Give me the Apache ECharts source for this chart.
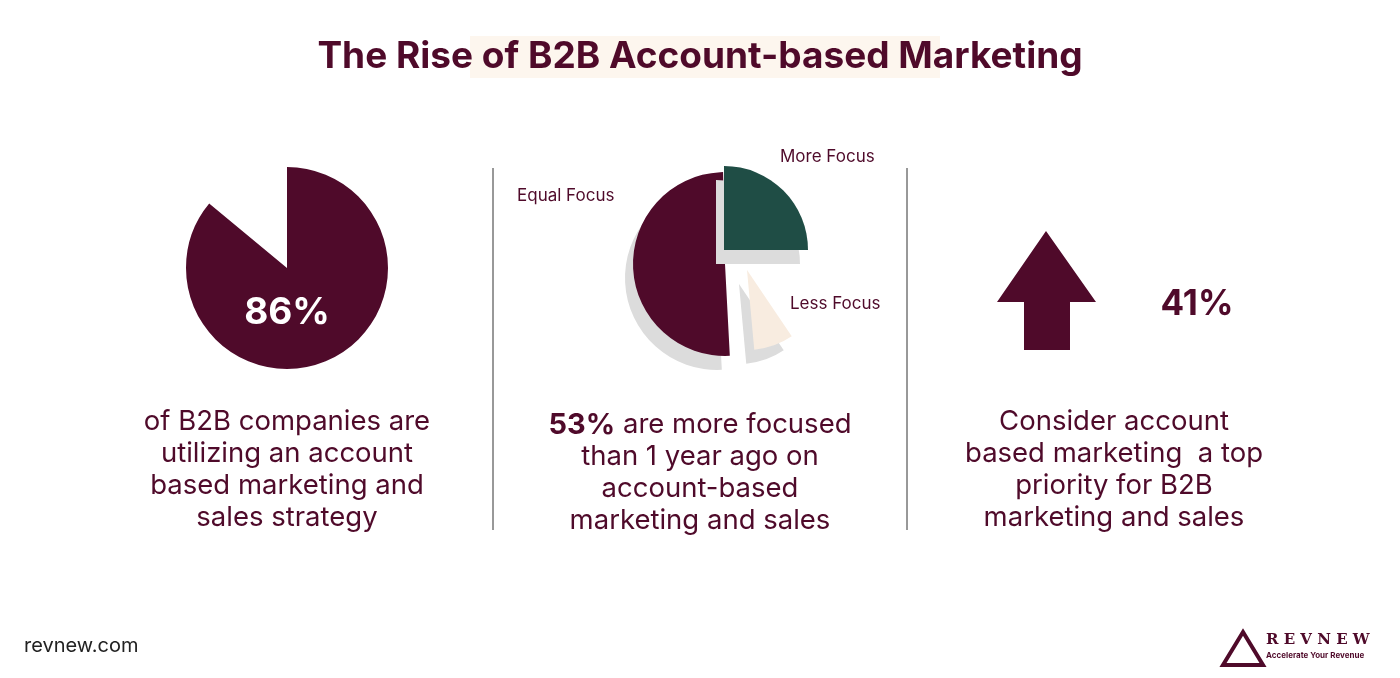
<!DOCTYPE html><html><head><meta charset="utf-8">
<script src="https://cdn.jsdelivr.net/npm/echarts@6/dist/echarts.min.js"></script>
<style>html,body{margin:0;background:#fff}#c{width:1400px;height:678px}</style></head><body><div id="c"></div>
<script>
const leftShare = [86, 14];
const focusLabels = ['More Focus','Equal Focus','Less Focus'];
const focusValues = [25, 50.5, 8];
const arrowStat = '41%';
const C='#4f0a2a', F='Inter, "Noto Sans", sans-serif';
const ch = echarts.init(document.getElementById('c'));
function slice(name,val,color,center,r,start){
  return {type:'pie',center,radius:[0,r],startAngle:start,clockwise:true,silent:true,animation:false,
    label:{show:false},labelLine:{show:false},
    data:[{name,value:val,itemStyle:{color,shadowColor:'#dcdcdc',shadowBlur:0,shadowOffsetX:-8,shadowOffsetY:14}},
          {name:'rest',value:100-val,itemStyle:{color:'transparent',shadowColor:'transparent'}}]};
}
ch.setOption({
  series:[
    {type:'pie',center:[287,268],radius:[0,101],startAngle:90,silent:true,animation:false,label:{show:false},
     data:[{value:leftShare[0],itemStyle:{color:C}},{value:leftShare[1],itemStyle:{color:'transparent'}}]},
    slice(focusLabels[1],focusValues[1],C,[725,264],92,273),
    slice(focusLabels[0],focusValues[0],'#1f4d45',[724,250],84,90),
    slice(focusLabels[2],focusValues[2],'#f8ece0',[747,270],80,-56)
  ],
  graphic:[
    {type:'rect',shape:{x:470,y:36,width:470,height:42},style:{fill:'#fdf6ee'},z:0},
    {type:'text',x:700,y:57,style:{text:'The Rise of B2B Account-based Marketing',font:'bold 37px '+F,fill:C,textAlign:'center',textVerticalAlign:'middle'}},
    {type:'text',x:287,y:313,style:{text:leftShare[0]+'%',font:'bold 37px '+F,fill:'#fff',textAlign:'center',textVerticalAlign:'middle'},z:10},
    {type:'text',x:780,y:157,style:{text:focusLabels[0],font:'17px '+F,fill:C,textVerticalAlign:'middle'}},
    {type:'text',x:517,y:196,style:{text:focusLabels[1],font:'17px '+F,fill:C,textVerticalAlign:'middle'}},
    {type:'text',x:790,y:304,style:{text:focusLabels[2],font:'17px '+F,fill:C,textVerticalAlign:'middle'}},
    {type:'line',shape:{x1:493,y1:168,x2:493,y2:530},style:{stroke:'#333',lineWidth:1}},
    {type:'line',shape:{x1:907,y1:168,x2:907,y2:530},style:{stroke:'#333',lineWidth:1}},
    {type:'polygon',shape:{points:[[1046,231],[1096,302],[1070,302],[1070,350],[1024,350],[1024,302],[997,302]]},style:{fill:C}},
    {type:'text',x:1197,y:304,style:{text:arrowStat,font:'bold 35px '+F,fill:C,textAlign:'center',textVerticalAlign:'middle'}},
    {type:'text',x:287,y:470,style:{text:'of B2B companies are\nutilizing an account\nbased marketing and\nsales strategy',font:'27.5px '+F,lineHeight:32,fill:C,textAlign:'center',textVerticalAlign:'middle'}},
    {type:'text',x:700,y:473,style:{text:'{b|53%} are more focused\nthan 1 year ago on\naccount-based\nmarketing and sales',font:'27.5px '+F,lineHeight:32,fill:C,textAlign:'center',textVerticalAlign:'middle',rich:{b:{font:'bold 29px '+F,fill:C}}}},
    {type:'text',x:1114,y:470,style:{text:'Consider account\nbased marketing  a top\npriority for B2B\nmarketing and sales',font:'27.5px '+F,lineHeight:32,fill:C,textAlign:'center',textVerticalAlign:'middle'}},
    {type:'text',x:24,y:646,style:{text:'revnew.com',font:'20px '+F,fill:'#222',textVerticalAlign:'middle'}},
    {type:'polygon',shape:{points:[[1243,632],[1263,665],[1223,665]]},style:{fill:'none',stroke:C,lineWidth:4}},
    {type:'text',x:1266,y:640,style:{text:'R E V N E W',font:'bold 15px "DejaVu Serif", serif',fill:C,textVerticalAlign:'middle'}},
    {type:'text',x:1266,y:656,style:{text:'Accelerate Your Revenue',font:'bold 8px '+F,fill:C,textVerticalAlign:'middle'}}
  ]
});
</script></body></html>
